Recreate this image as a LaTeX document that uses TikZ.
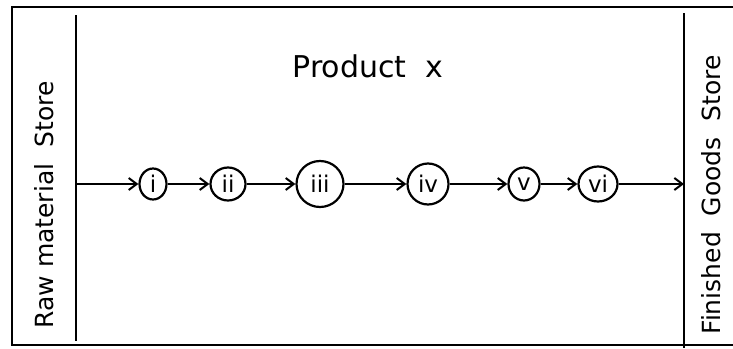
\documentclass[tikz,border=0pt]{standalone}
\usepackage{fontspec}
\setmainfont{DejaVu Sans}
\usetikzlibrary{arrows.meta,shapes.geometric}
\begin{document}
\begin{tikzpicture}[x=1pt,y=-1pt,
  ln/.style={line width=2pt,black},
  stage/.style={draw,line width=2.2pt,ellipse,inner sep=0pt,font=\fontsize{23}{23}\selectfont},
  flow/.style={ln,-{Straight Barb[length=8pt,width=12pt,line width=2pt]}},
  lbl/.style={font=\fontsize{25}{25}\selectfont}]
\useasboundingbox (0,0) rectangle (733,348);
\fill[white] (0,0) rectangle (733,348);
% outer frame
\draw[ln] (733,7) -- (12,7) -- (12,345) -- (733,345);
% inner walls
\coordinate (lt) at (76,15);
\coordinate (lb) at (76,341);
\coordinate (rt) at (684,13);
\coordinate (rb) at (684,348);
\draw[ln] (lt) -- (lb);
\draw[ln] (rt) -- (rb);
\coordinate (start) at (76,184);
\coordinate (end) at (684,184);
% stages
\node[stage,minimum width=27pt,minimum height=31pt] (s1) at (153,184) {i};
\node[stage,minimum width=35pt,minimum height=33pt] (s2) at (228,184) {ii};
\node[stage,minimum width=47pt,minimum height=46pt] (s3) at (320,184) {iii};
\node[stage,minimum width=41pt,minimum height=41pt] (s4) at (428,184) {iv};
\node[stage,minimum width=31pt,minimum height=33pt] (s5) at (524,184) {v};
\node[stage,minimum width=39pt,minimum height=35pt] (s6) at (598,184) {vi};
\draw[flow] (start) -- (s1.west);
\draw[flow] (s1.east) -- (s2.west);
\draw[flow] (s2.east) -- (s3.west);
\draw[flow] (s3.east) -- (s4.west);
\draw[flow] (s4.east) -- (s5.west);
\draw[flow] (s5.east) -- (s6.west);
\draw[flow] (s6.east) -- (end);
% labels
\node[lbl,rotate=90] (raw) at (44,205) {Raw material \ Store};
\node[lbl,rotate=90] (fin) at (711,195) {Finished \ Goods \ Store};
\node[font=\fontsize{30}{30}\selectfont] (prod) at (368,66) {Product \ x};
\end{tikzpicture}
\end{document}
